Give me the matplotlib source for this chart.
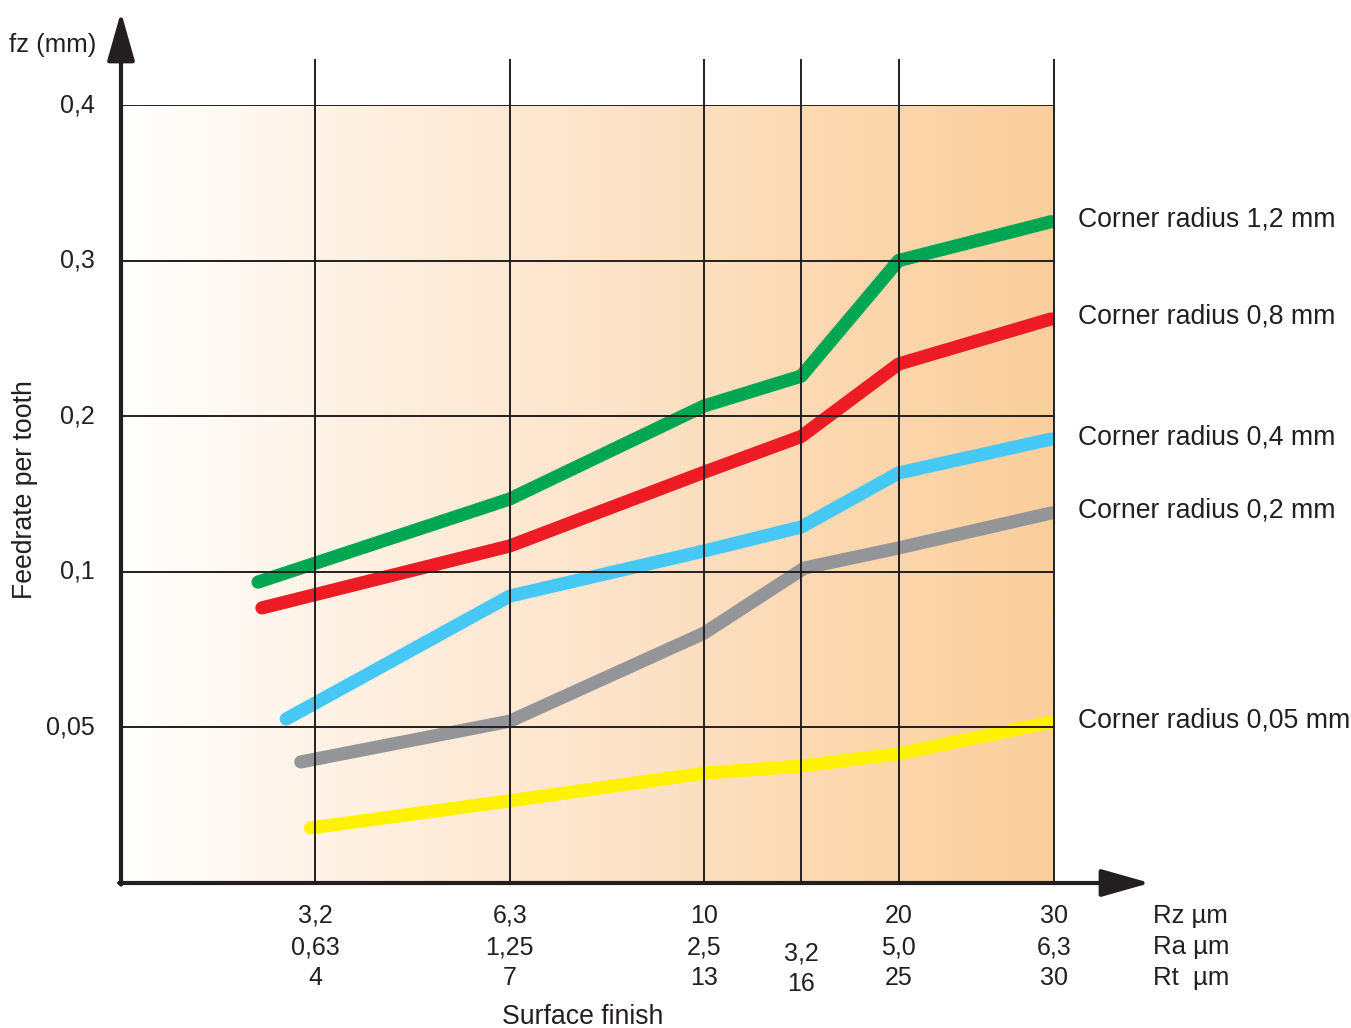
import numpy as np
import matplotlib
matplotlib.use('Agg')
import matplotlib.pyplot as plt
from matplotlib.colors import LinearSegmentedColormap

plt.rcParams['font.family'] = ['Liberation Sans', 'DejaVu Sans']

# ---- data ----
fz_ticks = [0.05, 0.1, 0.2, 0.3, 0.4]
fz_tick_labels = ['0,05', '0,1', '0,2', '0,3', '0,4']
x_ticks = [2, 4, 6, 7, 8, 9.6]
rz_labels = ['3,2', '6,3', '10', '', '20', '30']
ra_labels = ['0,63', '1,25', '2,5', '3,2', '5,0', '6,3']
rt_labels = ['4', '7', '13', '16', '25', '30']

names = ['Corner radius 1,2 mm', 'Corner radius 0,8 mm', 'Corner radius 0,4 mm',
         'Corner radius 0,2 mm', 'Corner radius 0,05 mm']
colors = ['#00A651', '#ED1C24', '#45C8F5', '#939598', '#FFF200']

green_x = [1.41, 4.0, 6.0, 7.0, 8.0, 9.57]
green_y = [0.0967, 0.1468, 0.2066, 0.2258, 0.300, 0.325]
red_x = [1.45, 4.0, 6.0, 7.0, 8.0, 9.57]
red_y = [0.0884, 0.1166, 0.164, 0.187, 0.2335, 0.2625]
blue_x = [1.70, 4.0, 6.0, 7.0, 8.0, 9.57]
blue_y = [0.0527, 0.0922, 0.1134, 0.1288, 0.1635, 0.1853]
gray_x = [1.85, 4.0, 6.0, 7.03, 8.0, 9.57]
gray_y = [0.0389, 0.052, 0.0803, 0.1024, 0.1153, 0.1378]
yellow_x = [1.95, 4.0, 6.0, 7.0, 8.0, 9.57]
yellow_y = [0.0177, 0.0264, 0.0353, 0.0376, 0.0415, 0.0517]

series_x = [green_x, red_x, blue_x, gray_x, yellow_x]
series_y = [green_y, red_y, blue_y, gray_y, yellow_y]

# ---- piecewise scale ----
_fz = [0.0, 0.05, 0.1, 0.2, 0.3, 0.4]
_pos = [0.0, 1.0, 2.0, 3.0, 4.0, 5.0]
def fwd(v):
    return np.interp(v, _fz, _pos)
def inv(p):
    return np.interp(p, _pos, _fz)

W, H = 1351, 1028
fig = plt.figure(figsize=(W / 100, H / 100), dpi=100)
ax = fig.add_axes([121 / W, (H - 883) / H, 933 / W, 778 / H])
ax.set_yscale('function', functions=(fwd, inv))

dark = '#231F20'

# gradient background
cmap = LinearSegmentedColormap.from_list(
    'bg', [(0.0, '#FFFFFF'), (0.3, '#FEEEDD'), (0.535, '#FDE3C9'),
           (0.77, '#FCD8B0'), (1.0, '#FBCF9C')])
grad = np.linspace(0, 1, 512).reshape(1, -1)
ax.imshow(grad, cmap=cmap, aspect='auto', extent=[0, 1, 0, 1],
          transform=ax.transAxes, zorder=0, interpolation='bilinear')

# series
for xs, ys, c in zip(series_x, series_y, colors):
    ax.plot(xs, ys, color=c, lw=9.5, solid_capstyle='round',
            solid_joinstyle='round', zorder=2)

ax.set_xlim(0, 9.6)
ax.set_ylim(0, 0.4)
for s in ax.spines.values():
    s.set_visible(False)
ax.set_xticks([])
ax.set_yticks([])

# grid (drawn over lines)
for v in fz_ticks:
    ax.axhline(v, xmin=0, xmax=1, color=dark, lw=1.4, zorder=3)
xtr = ax.get_xaxis_transform()
top_ext = 1 + 45 / 778
for xv in x_ticks:
    ax.plot([xv, xv], [0, top_ext], color=dark, lw=1.4, transform=xtr,
            clip_on=False, zorder=3)

# axes arrows
arrow = dict(arrowstyle='-|>,head_length=0.6,head_width=0.17', lw=3,
             color=dark, mutation_scale=50, shrinkA=0, shrinkB=0)
ax.annotate('', xy=(0, 1 + (105 - 12) / 778), xytext=(0, -0.002),
            xycoords='axes fraction', textcoords='axes fraction',
            arrowprops=arrow, zorder=5)
ax.annotate('', xy=((1150 - 121) / 933, 0), xytext=(-0.002, 0),
            xycoords='axes fraction', textcoords='axes fraction',
            arrowprops=arrow, zorder=5)

fs = 18
fsw = 19.2
# y tick labels
ytr = ax.get_yaxis_transform()
for v, lab in zip(fz_ticks, fz_tick_labels):
    ax.text((95 - 121) / 933, v, lab, ha='right', va='center', fontsize=fs,
            color=dark, transform=ytr)

# x tick labels
def ya(py):
    return (883 - py) / 778
for xv, rz, ra, rt in zip(x_ticks, rz_labels, ra_labels, rt_labels):
    if rz:
        ax.text(xv, ya(916), rz, ha='center', va='center', fontsize=fs, color=dark, transform=xtr)
        ax.text(xv, ya(947), ra, ha='center', va='center', fontsize=fs, color=dark, transform=xtr)
        ax.text(xv, ya(978), rt, ha='center', va='center', fontsize=fs, color=dark, transform=xtr)
    else:
        ax.text(xv, ya(953), ra, ha='center', va='center', fontsize=fs, color=dark, transform=xtr)
        ax.text(xv, ya(984), rt, ha='center', va='center', fontsize=fs, color=dark, transform=xtr)

def ft(px, py, s, size=fsw, **kw):
    fig.text(px / W, 1 - py / H, s, fontsize=size, color=dark, **kw)

ft(1153, 916, 'Rz µm', size=18.5, ha='left', va='center')
ft(1153, 947, 'Ra µm', size=18.5, ha='left', va='center')
ft(1153, 978, 'Rt  µm', size=18.5, ha='left', va='center')
ft(583, 1017, 'Surface finish', ha='center', va='center')
ft(53, 45, 'fz (mm)', size=18.5, ha='center', va='center')
ft(25, 490, 'Feedrate per tooth', ha='center', va='center', rotation=90)

# series labels
for xs, ys, name in zip(series_x, series_y, names):
    ax.annotate(name, xy=(xs[-1], ys[-1]), xytext=(27, 2), textcoords='offset pixels',
                ha='left', va='center', fontsize=fsw, color=dark, annotation_clip=False)

fig.savefig('out.png', dpi=100)
